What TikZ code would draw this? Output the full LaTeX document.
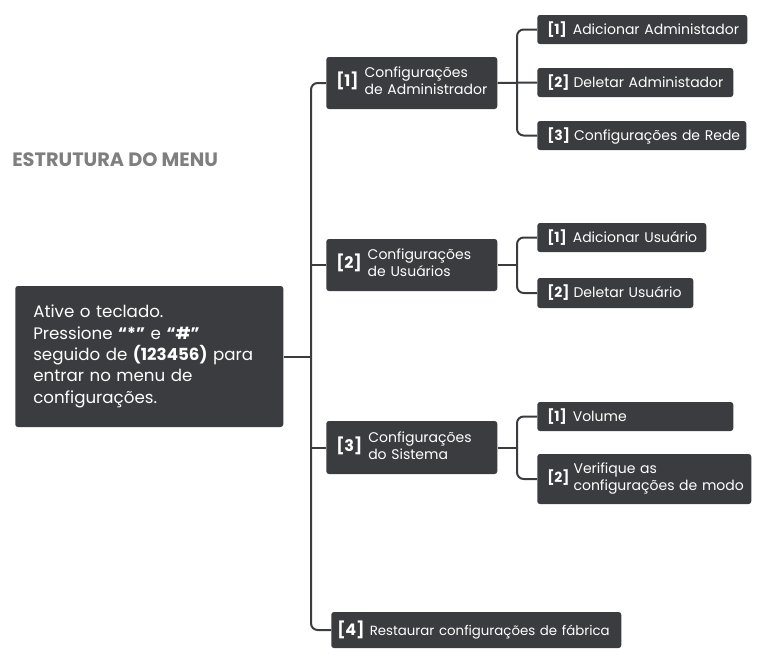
\documentclass[tikz,border=0pt]{standalone}
\usepackage{fontspec}
\setmainfont{Poppins}
\definecolor{boxgray}{HTML}{3A3C3F}
\definecolor{titlegray}{HTML}{7F7F7F}
\begin{document}
\begin{tikzpicture}[x=0.75pt,y=-0.75pt,
  box/.style={fill=boxgray, rounded corners=2pt, text=white, anchor=west,
    inner xsep=7.5pt, inner ysep=0pt, align=left,
    font=\fontsize{10.5}{12.75}\selectfont},
  conn/.style={draw=boxgray, line width=1.5pt, rounded corners=5pt}]
\useasboundingbox (0,0) rectangle (766,665);
\node[anchor=west, text=titlegray, font=\bfseries\fontsize{14.5}{17}\selectfont, inner sep=0pt] (title) at (12,160) {ESTRUTURA DO MENU};
% main box
\node[box, text width=174pt, minimum height=141*0.75pt, inner xsep=13.5pt,
  font=\fontsize{12.5}{16}\selectfont] (main) at (15,356.5)
  {Ative o teclado.\\Pressione \textbf{“*”} e \textbf{“\#”}\\seguido de \textbf{(123456)} para\\entrar no menu de\\configurações.};
% level 1
\node[box, text width=113.25pt, minimum height=39pt] (p1) at (326,83)
  {\mbox{\textbf{\fontsize{12}{12}\selectfont[1]}\hspace{4.5pt}\begin{tabular}{@{}l@{}}Configurações\\de Administrador\end{tabular}}};
\node[box, text width=113.25pt, minimum height=39pt] (p2) at (326,265)
  {\mbox{\textbf{\fontsize{12}{12}\selectfont[2]}\hspace{4.5pt}\begin{tabular}{@{}l@{}}Configurações\\de Usuários\end{tabular}}};
\node[box, text width=113.25pt, minimum height=39.75pt] (p3) at (326,447.5)
  {\mbox{\textbf{\fontsize{12}{12}\selectfont[3]}\hspace{4.5pt}\begin{tabular}{@{}l@{}}Configurações\\do Sistema\end{tabular}}};
\node[box, text width=208.5pt, minimum height=27pt, inner xsep=4.5pt] (p4) at (331,630)
  {\mbox{\textbf{\fontsize{12}{12}\selectfont[4]}\hspace{4pt}{\fontsize{10}{12}\selectfont Restaurar configurações de fábrica}}};
% level 2
\node[box, text width=142.5pt, minimum height=21.75pt] (c11) at (537,29.5)
  {\mbox{\textbf{[1]}\hspace{4.5pt}Adicionar Administador}};
\node[box, text width=132pt, minimum height=21.75pt] (c12) at (537,82.5)
  {\mbox{\textbf{[2]}\hspace{3pt}Deletar Administador}};
\node[box, text width=141.75pt, minimum height=21.75pt] (c13) at (537,135.5)
  {\mbox{\textbf{[3]}\hspace{3pt}Configurações de Rede}};
\node[box, text width=111.75pt, minimum height=21.75pt] (c21) at (537,237.5)
  {\mbox{\textbf{[1]}\hspace{4.5pt}Adicionar Usuário}};
\node[box, text width=102pt, minimum height=22.5pt] (c22) at (537,293)
  {\mbox{\textbf{[2]}\hspace{3pt}Deletar Usuário}};
\node[box, text width=132pt, minimum height=21.75pt] (c31) at (537,416.5)
  {\mbox{\textbf{[1]}\hspace{4.5pt}Volume}};
\node[box, text width=145.5pt, minimum height=37.5pt] (c32) at (537,479)
  {\mbox{\textbf{[2]}\hspace{3pt}\begin{tabular}{@{}l@{}}Verifique as\\configurações de modo\end{tabular}}};
% connectors
\coordinate (tm) at (311,356.5);
\coordinate (b1) at (517,83);
\coordinate (b2) at (517,265);
\coordinate (b3) at (517,447.5);
\draw[conn] (p1.west) -| (tm) |- (p4.west);
\draw[conn] (main.east) -- (tm);
\draw[conn] (p2.west) -- (p2.west -| tm);
\draw[conn] (p3.west) -- (p3.west -| tm);
\draw[conn] (c11.west) -| (b1) |- (c13.west);
\draw[conn] (p1.east) -- (c12.west);
\draw[conn] (c21.west) -| (b2) |- (c22.west);
\draw[conn] (p2.east) -- (b2);
\draw[conn] (c31.west) -| (b3) |- (c32.west);
\draw[conn] (p3.east) -- (b3);
\end{tikzpicture}
\end{document}
